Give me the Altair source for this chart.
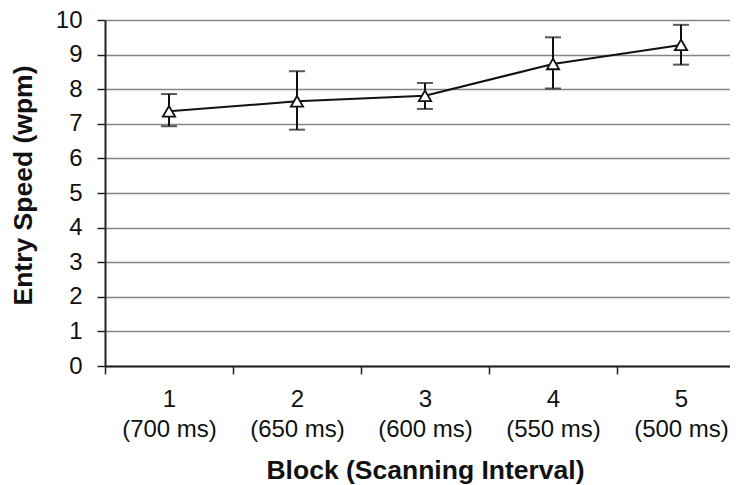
import altair as alt
import pandas as pd

blocks = ["1", "2", "3", "4", "5"]
intervals = ["(700 ms)", "(650 ms)", "(600 ms)", "(550 ms)", "(500 ms)"]
means = [7.36, 7.65, 7.81, 8.73, 9.28]
upper = [7.86, 8.52, 8.18, 9.50, 9.86]
lower = [6.93, 6.83, 7.43, 8.02, 8.71]

labels = [f"{b}|{i}" for b, i in zip(blocks, intervals)]
df = pd.DataFrame({"label": labels, "mean": means, "upper": upper, "lower": lower})

FONT = "Liberation Sans"

x_axis = alt.Axis(
    title="Block (Scanning Interval)",
    labelAngle=0,
    labelExpr="datum.value ? split(datum.value, '|') : ''",
    labelFontSize=24,
    labelLineHeight=30,
    labelPadding=13,
    labelColor="#111",
    labelFont=FONT,
    tickBand="extent",
    tickSize=8,
    tickColor="#222",
    tickWidth=1.5,
    domainColor="#222",
    domainWidth=2,
    grid=False,
    titleFont=FONT,
    titleFontSize=26.5,
    titleFontWeight="bold",
    titleColor="#111",
    titleY=112,
    titleBaseline="alphabetic",
)

y_axis = alt.Axis(
    title="Entry Speed (wpm)",
    values=list(range(0, 11)),
    format="d",
    labelOverlap=False,
    grid=True,
    gridColor="#858585",
    gridWidth=1.6,
    tickSize=8,
    tickColor="#222",
    tickWidth=1.5,
    domainColor="#222",
    domainWidth=2,
    labelFontSize=24,
    labelPadding=15,
    labelColor="#111",
    labelFont=FONT,
    titleFont=FONT,
    titleFontSize=26.5,
    titleFontWeight="bold",
    titleColor="#111",
    titleAngle=270,
    titleX=-82,
    titleY=165,
    titleAlign="center",
    titleBaseline="middle",
)

x_scale = alt.Scale(paddingInner=0, paddingOuter=0)
y_scale = alt.Scale(domain=[0, 10], nice=False)


def X():
    return alt.X("label:N", sort=labels, scale=x_scale, axis=x_axis)


def Y(field):
    return alt.Y(field, scale=y_scale, axis=y_axis)


base = alt.Chart(df)

line = base.mark_line(color="#111", strokeWidth=2).encode(x=X(), y=Y("mean:Q"))

rules = base.mark_rule(color="#111", strokeWidth=2).encode(
    x=X(), y=Y("lower:Q"), y2="upper:Q"
)

cap_hi = base.mark_tick(color="#111", thickness=2, size=16).encode(x=X(), y=Y("upper:Q"))
cap_lo = base.mark_tick(color="#111", thickness=2, size=16).encode(x=X(), y=Y("lower:Q"))

points = base.mark_point(
    shape="triangle-up", filled=True, fill="white", stroke="#111",
    strokeWidth=1.8, size=150, opacity=1,
).encode(x=X(), y=Y("mean:Q"))

chart = (
    alt.layer(line, rules, cap_hi, cap_lo, points)
    .properties(
        width=640,
        height=346,
        autosize=alt.AutoSizeParams(type="none"),
        padding={"left": 97, "top": 12, "right": -15, "bottom": 119},
    )
    .configure_view(stroke=None)
    .configure(background="white")
)

chart.save("out.html", embed_options={"renderer": "svg", "actions": False})
